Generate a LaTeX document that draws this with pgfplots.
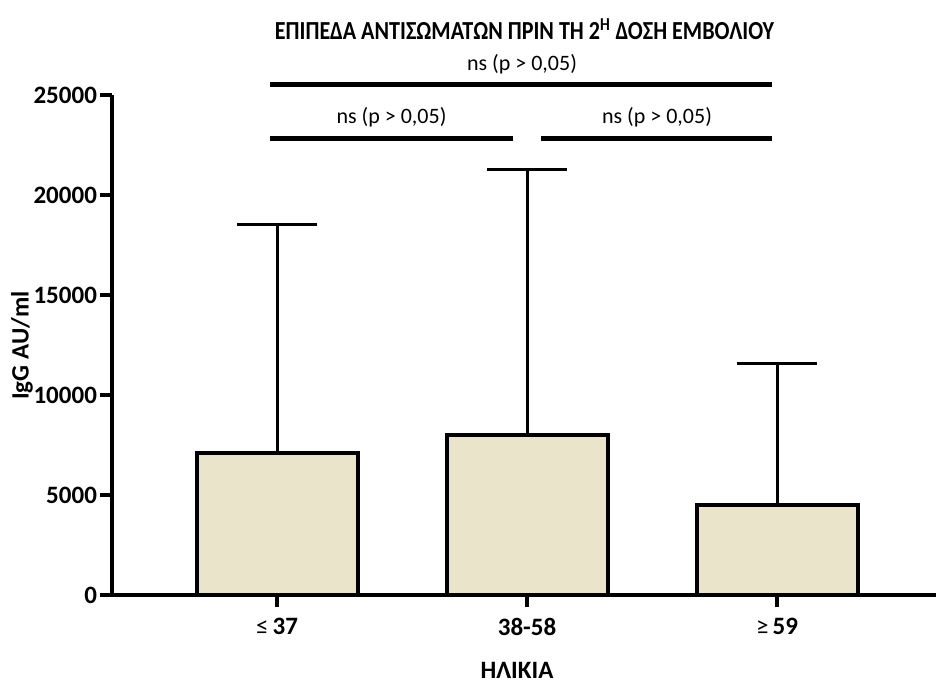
\documentclass[border=0pt]{standalone}
\usepackage{fontspec}
\setmainfont{Carlito}
\usepackage{pgfplots}
\pgfplotsset{compat=1.18}
\definecolor{barfill}{RGB}{234,229,202}

\begin{document}
\begin{tikzpicture}
% fixed canvas: 1px = 0.5pt
\useasboundingbox (-56pt,-44.25pt) rectangle (412pt,297.75pt);
\begin{axis}[
  at={(0,0)}, anchor=south west,
  scale only axis,
  width=412pt, height=250pt,
  xmin=-0.66, xmax=2.636,
  ymin=0, ymax=25000,
  clip=false,
  scaled y ticks=false,
  axis x line=bottom, axis y line=left,
  axis line style={-, line width=2pt},
  xtick={0,1,2},
  xticklabels={{≤\,\textbf{37}},{\bfseries 38-58},{≥\,\textbf{59}}},
  ytick={0,5000,10000,15000,20000,25000},
  yticklabels={0,5000,10000,15000,20000,25000},
  tick style={line width=2pt, black},
  major tick length=6pt,
  tick align=outside,
  xticklabel style={font=\fontsize{12.5}{14}\selectfont, yshift=-2pt},
  yticklabel style={font=\fontsize{12.5}{14}\selectfont\bfseries, xshift=2pt},
]
\addplot[ybar, bar width=0.644, fill=barfill, draw=black, line width=2pt,
  error bars/.cd, y dir=plus, y explicit,
  error bar style={line width=1.5pt, black},
  error mark=|,
  error mark options={line width=1.5pt, black, mark size=20pt}]
  coordinates {
    (0,7130) +- (0,11420)
    (1,8000) +- (0,13320)
    (2,4530) +- (0,7080)
  };

% significance brackets
\addplot[black, line width=2.5pt, no marks] coordinates {(-0.028,25525) (1.98,25525)};
\addplot[black, line width=2.5pt, no marks] coordinates {(-0.028,22825) (0.944,22825)};
\addplot[black, line width=2.5pt, no marks] coordinates {(1.056,22825) (1.98,22825)};

\node[font=\fontsize{11}{13}\selectfont] at (axis cs:0.98,26580) {ns (p > 0,05)};
\node[font=\fontsize{11}{13}\selectfont] at (axis cs:0.458,23900) {ns (p > 0,05)};
\node[font=\fontsize{11}{13}\selectfont] at (axis cs:1.52,23900) {ns (p > 0,05)};

% axis titles
\node[font=\fontsize{12.5}{14}\selectfont\bfseries] at (axis cs:0.96,-3720) {ΗΛΙΚΙΑ};
\node[font=\fontsize{12.5}{14}\selectfont\bfseries, rotate=90] at (axis cs:-1.02,12500) {IgG AU/ml};

\node[font=\fontsize{13}{15}\selectfont\bfseries, xscale=0.85] at (axis cs:0.99,28300)
  {ΕΠΙΠΕΔΑ ΑΝΤΙΣΩΜΑΤΩΝ ΠΡΙΝ ΤΗ 2\textsuperscript{Η} ΔΟΣΗ ΕΜΒΟΛΙΟΥ};
\end{axis}
\end{tikzpicture}
\end{document}
